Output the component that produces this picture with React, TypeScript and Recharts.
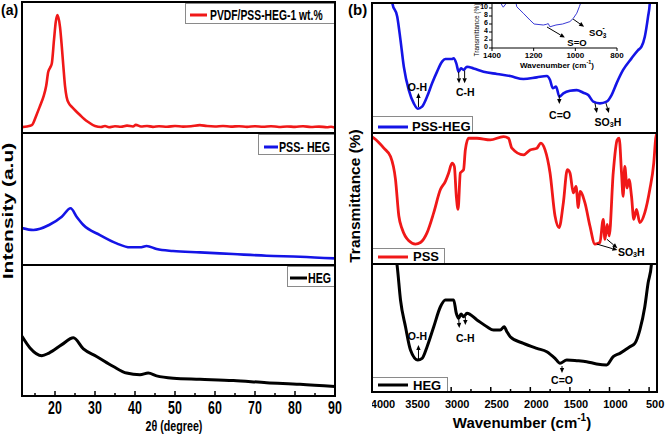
import React from "react";
import { LineChart, Line, XAxis, YAxis, ReferenceLine, ReferenceDot } from "recharts";

type Pt = [number, number];
type Note = { x: number; y: number; text: string; anchor?: "start" | "middle" };
type Arrow = { x1: number; y1: number; x2: number; y2: number };

const SANS = "'Liberation Sans', Arial, Helvetica, sans-serif";
const PAD = 12;

// (a) XRD: 2θ (degree) vs intensity (a.u., 0-100 within each strip)
const xrdPvdf: Pt[] = [
  [11.75, 4.5], [13, 5], [14.2, 6], [15.4, 14], [16.3, 21], [17.1, 27.5], [17.8, 36], [18.3, 46.5],
  [18.8, 50], [19.2, 53], [19.75, 71], [20.2, 85], [20.6, 90], [21.25, 81], [21.7, 66], [22.1, 50.5],
  [22.5, 36], [22.9, 27.5], [23.5, 22.5], [24.2, 20], [25.2, 16.8], [26.25, 13.7], [27.3, 10.7],
  [28.3, 8.4], [30, 5.3], [31.5, 4.6], [32.5, 5.3], [33.5, 4.4], [35, 5.2], [36.5, 4.8], [38, 5.6],
  [39.5, 5.0], [40.2, 6.2], [41.5, 5.0], [43, 5.4], [44.5, 4.7], [46, 5.2], [48, 4.8], [50, 5.3],
  [52, 4.9], [54, 5.2], [56.2, 6.0], [58, 5.3], [60, 5.0], [62, 5.4], [64, 4.9], [66, 5.2], [68, 4.7],
  [70, 5.1], [72, 4.8], [74, 5.2], [76, 4.6], [78, 5.0], [80, 4.7], [82, 5.1], [84, 4.6], [86, 4.9],
  [88, 4.4], [89, 4.8], [90, 4.0],
];
const xrdPssHeg: Pt[] = [
  [11.75, 28], [14.6, 26.5], [18.5, 30.3], [21.7, 36.6], [23.9, 43], [25.4, 36.6], [27.1, 30.3],
  [31.25, 22.7], [35.4, 16.4], [38.75, 13.4], [41.25, 13.4], [42.9, 14.4], [45.4, 12.1], [49.5, 10.6],
  [56.25, 9.6], [64.5, 8.3], [72.9, 7], [81.25, 6.3], [90, 5],
];
const xrdHeg: Pt[] = [
  [11.75, 45.6], [13.75, 36.7], [16.7, 30.8], [18.5, 32.8], [21.7, 39.2], [24.6, 44.4], [27.1, 35.9],
  [30.4, 30.2], [34.6, 22.5], [37.9, 17.5], [41.25, 16.2], [43.3, 17.5], [45.4, 15.4], [49.6, 13.6],
  [56.25, 12.8], [64.6, 11.8], [72.9, 10.2], [81.25, 9], [90, 7.2],
];
const thetaTicks = [15, 20, 25, 30, 35, 40, 45, 50, 55, 60, 65, 70, 75, 80, 85, 90];
const thetaLabels = [20, 30, 40, 50, 60, 70, 80, 90];

// (b) FTIR: wavenumber (cm-1) vs transmittance (a.u., 0-100 within each strip)
const ftirPssHeg: Pt[] = [
  [3770, 115], [3744, 100], [3681, 89.5], [3640, 71.5], [3598, 51], [3535, 33], [3472, 22.8],
  [3422, 18.7], [3367, 20.3], [3304, 28], [3241, 38.2], [3178, 47.2], [3115, 54.9], [3073, 56.9],
  [2989, 56.9], [2969, 57.4], [2935, 53.6], [2906, 47.2], [2875, 49.7], [2843, 48.5], [2800, 51],
  [2717, 49.7], [2591, 47.2], [2422, 45.4], [2254, 43.8], [2087, 41.5], [1918, 42.8], [1792, 43.8],
  [1751, 40.8], [1717, 34.4], [1675, 35.7], [1634, 28], [1583, 30.5], [1499, 32.5], [1414, 33],
  [1331, 31], [1268, 29.2], [1205, 24.1], [1121, 22.8], [1037, 24.1], [974, 29.2], [911, 38.2],
  [828, 48.5], [722, 57.4], [639, 63.8], [596, 66.4], [554, 74.1], [513, 89.5], [491, 99.8], [478, 115],
];
const ftirPss: Pt[] = [
  [4000, 97], [3976, 96], [3850, 88.4], [3766, 82], [3703, 64.4], [3661, 36.6], [3618, 26.5],
  [3535, 17.7], [3451, 15.2], [3388, 16.4], [3304, 24], [3220, 39.2], [3136, 56.8], [3073, 63.1],
  [3032, 69.5], [2989, 77], [2960, 74.5], [2935, 51.7], [2913, 41.7], [2884, 69.5], [2863, 70.7],
  [2843, 72], [2821, 87.1], [2780, 96], [2674, 96], [2506, 94.7], [2339, 97.2], [2276, 96],
  [2233, 88.4], [2087, 83.3], [2003, 87.1], [1918, 88.4], [1868, 92.2], [1814, 87.1], [1751, 69.5],
  [1688, 36.6], [1637, 27.8], [1583, 46.7], [1533, 72], [1499, 69.5], [1457, 54.3], [1423, 59.3],
  [1394, 43], [1373, 55.5], [1310, 46.7], [1247, 29], [1184, 15.2], [1121, 16.4], [1079, 34.1],
  [1058, 18.9], [1029, 30.3], [1004, 21.4], [953, 69.5], [903, 94.7], [878, 96], [848, 69.5],
  [828, 51.7], [807, 74.5], [778, 58], [753, 64.4], [722, 51.7], [693, 34.1], [659, 41.7],
  [617, 31.6], [554, 39.2], [491, 56.8], [441, 77], [416, 96], [400, 100],
];
const ftirHeg: Pt[] = [
  [3720, 115], [3681, 97.9], [3640, 71.9], [3577, 51], [3514, 32.8], [3422, 25], [3367, 26.3],
  [3304, 35.4], [3220, 51], [3136, 66.6], [3073, 71.9], [2969, 71.9], [2935, 61.5], [2906, 57.6],
  [2875, 60.9], [2843, 58.8], [2800, 61.5], [2674, 56.3], [2548, 51], [2465, 48.4], [2380, 48.4],
  [2330, 51], [2296, 47.1], [2254, 43.2], [2087, 38], [1918, 34.1], [1792, 31.5], [1688, 26.3],
  [1625, 22.4], [1540, 25], [1414, 24.5], [1289, 23.7], [1163, 21.9], [1037, 21.1], [953, 27.6],
  [869, 30.2], [743, 35.4], [680, 38], [617, 48.4], [554, 66.6], [513, 84.9], [470, 100], [455, 115],
];
const wnTicks = [4000, 3750, 3500, 3250, 3000, 2750, 2500, 2250, 2000, 1750, 1500, 1250, 1000, 750, 500];
const wnLabels = [4000, 3500, 3000, 2500, 2000, 1500, 1000, 500];

// inset: PSS-HEG, 1400-800 cm-1, transmittance (%)
const insetPssHeg: Pt[] = [
  [1365, 12.5], [1353, 10.75], [1346, 10.2], [1334, 11], [1325, 12.5], [1290, 12.5], [1281, 10.3],
  [1250, 8.7], [1218, 7], [1198, 6], [1154, 5.75], [1140, 5.9], [1130, 6.1], [1122, 5.3], [1093, 5.75],
  [1061, 6], [1026, 6.6], [1010, 7.4], [993, 8.7], [981, 10.3], [974, 11.3], [965, 12.5],
];
const insetXTicks = [1400, 1200, 1000, 800];
const insetYTicks = [0, 2, 4, 6, 8, 10];

// band assignments
const pssHegNotes: Note[] = [
  { x: 3426, y: 35.4, text: "O-H" },
  { x: 2821, y: 31.5, text: "C-H" },
  { x: 1625, y: 13.8, text: "C=O" },
  { x: 1020, y: 8.5, text: "SO3H" },
];
const pssHegArrows: Arrow[] = [
  { x1: 3413, y1: 20, x2: 3413, y2: 30.8 },
  { x1: 2906, y1: 47, x2: 2900, y2: 38.2 },
  { x1: 2830, y1: 48, x2: 2830, y2: 38.2 },
  { x1: 1634, y1: 29.2, x2: 1634, y2: 22.3 },
  { x1: 1184, y1: 23, x2: 1159, y2: 15.4 },
  { x1: 1045, y1: 23, x2: 1008, y2: 15.4 },
];
const pssNotes: Note[] = [{ x: 894, y: 9.1, text: "SO3H", anchor: "start" }];
const pssArrows: Arrow[] = [
  { x1: 1159, y1: 15.2, x2: 900, y2: 10.6 },
  { x1: 1033, y1: 18.9, x2: 900, y2: 12.1 },
];
const hegNotes: Note[] = [
  { x: 3426, y: 43.75, text: "O-H" },
  { x: 2821, y: 42.2, text: "C-H" },
  { x: 1600, y: 9.4, text: "C=O" },
];
const hegArrows: Arrow[] = [
  { x1: 3413, y1: 25, x2: 3413, y2: 36.7 },
  { x1: 2906, y1: 58.6, x2: 2897, y2: 50 },
  { x1: 2821, y1: 58.6, x2: 2821, y2: 52.3 },
  { x1: 1600, y1: 20.3, x2: 1600, y2: 14.8 },
];
const insetNotes: Note[] = [
  { x: 992, y: 1.5, text: "S=O" },
  { x: 934, y: 3.9, text: "SO3-", anchor: "start" },
];
const insetArrows: Arrow[] = [
  { x1: 1136, y1: 5.25, x2: 1050, y2: 2.6 },
  { x1: 1011, y1: 7.25, x2: 958, y2: 5.3 },
];

const rows = (pts: Pt[]) => pts.map(([x, y]) => ({ x, y }));

function labelSpans(text: string, size: number) {
  const s = size * 0.68;
  if (text === "SO3H")
    return [<tspan key="a">SO</tspan>, <tspan key="b" fontSize={s} dy={3}>3</tspan>, <tspan key="c" dy={-3}>H</tspan>];
  if (text === "SO3-")
    return [<tspan key="a">SO</tspan>, <tspan key="b" fontSize={s} dy={3}>3</tspan>, <tspan key="c" fontSize={s} dx={-4} dy={-8}>-</tspan>];
  return text;
}

const noteShape = (n: Note, size: number) => (p: any) => (
  <text x={p.cx} y={p.cy} textAnchor={n.anchor ?? "middle"} dominantBaseline="central"
    fontSize={size} fontWeight="bold" fill="#000" fontFamily={SANS}>
    {labelSpans(n.text, size)}
  </text>
);

const arrowShape = (p: any) => {
  const { x1, y1, x2, y2 } = p;
  const a = Math.atan2(y2 - y1, x2 - x1);
  const bx = x2 - 5 * Math.cos(a), by = y2 - 5 * Math.sin(a);
  const px = -Math.sin(a) * 2.2, py = Math.cos(a) * 2.2;
  return (
    <g>
      <line x1={x1} y1={y1} x2={bx} y2={by} stroke="#000" strokeWidth={1} />
      <polygon points={`${x2},${y2} ${bx + px},${by + py} ${bx - px},${by - py}`} fill="#000" />
    </g>
  );
};

function annotations(notes: Note[], arrows: Arrow[], size: number) {
  return [
    ...arrows.map((a, i) => (
      <ReferenceLine key={"a" + i} segment={[{ x: a.x1, y: a.y1 }, { x: a.x2, y: a.y2 }]} shape={arrowShape} />
    )),
    ...notes.map((n, i) => (
      <ReferenceDot key={"n" + i} x={n.x} y={n.y} r={0} shape={noteShape(n, size)} />
    )),
  ];
}

const thetaTick = (p: any) => {
  const v = p.payload.value;
  const major = thetaLabels.includes(v);
  return (
    <g>
      <line x1={p.x} y1={p.y} x2={p.x} y2={p.y - (major ? 5 : 3)} stroke="#000" strokeWidth={1.5} />
      {major && (
        <text transform={`translate(${p.x},${p.y + 18}) scale(0.69,1)`} textAnchor="middle"
          fontSize={18} fontWeight="bold" fill="#000" fontFamily={SANS}>{v}</text>
      )}
    </g>
  );
};

const wnTick = (labels: boolean) => (p: any) => {
  const v = p.payload.value;
  const major = wnLabels.includes(v);
  return (
    <g>
      <line x1={p.x} y1={p.y} x2={p.x} y2={p.y - (major ? 5 : 3)} stroke="#000" strokeWidth={1.5} />
      {labels && major && (
        <text x={p.x + (v === 4000 ? 11 : 6)} y={p.y + 15.5} textAnchor="middle"
          fontSize={11} fontWeight="bold" fill="#000" fontFamily={SANS}>{v}</text>
      )}
    </g>
  );
};

function Strip(props: {
  left: number; top: number; w: number; h: number; axisH?: number;
  data: Pt[]; color: string; sw: number; domain: [number, number]; reversed?: boolean;
  ticks?: number[]; tick?: any; children?: React.ReactNode;
}) {
  const { left, top, w, h, axisH = 0, data, color, sw, domain, reversed, ticks, tick, children } = props;
  return (
    <div style={{ position: "absolute", left, top }}>
      <LineChart width={w + PAD} height={h + axisH} data={rows(data)}
        margin={{ top: 0, right: PAD, bottom: 0, left: 0 }}>
        <XAxis dataKey="x" type="number" domain={domain} reversed={reversed} allowDataOverflow
          hide={!ticks} ticks={ticks} interval={0} height={axisH} tickSize={0} tickMargin={0}
          axisLine={false} tickLine={false} tick={tick} />
        <YAxis hide type="number" domain={[0, 100]} allowDataOverflow />
        <Line type="monotone" dataKey="y" stroke={color} strokeWidth={sw} dot={false}
          strokeLinejoin="round" isAnimationActive={false} />
        {children}
      </LineChart>
    </div>
  );
}

function Frame({ x, y, w, h }: { x: number; y: number; w: number; h: number }) {
  return (
    <div style={{
      position: "absolute", left: x - 1, top: y - 1, width: w + 2, height: h + 2,
      border: "2px solid #000", boxSizing: "border-box", pointerEvents: "none",
    }} />
  );
}

function LegendBox(p: {
  x: number; y: number; w: number; h: number; color: string; label: string;
  l1: number; l2: number; ly: number; tx: number; ty: number; size: number; squeeze?: number;
}) {
  const sq = p.squeeze ?? 1;
  return (
    <svg width={p.w} height={p.h} style={{ position: "absolute", left: p.x, top: p.y }}>
      <rect x={0.5} y={0.5} width={p.w - 1} height={p.h - 1} fill="#fff" stroke="#8a8a8a" />
      <line x1={p.l1} y1={p.ly} x2={p.l2} y2={p.ly} stroke={p.color} strokeWidth={3} />
      <text transform={`translate(${p.tx},${p.ty}) scale(${sq},1)`} fontSize={p.size}
        fontWeight="bold" fill="#000" fontFamily={SANS}>{p.label}</text>
    </svg>
  );
}

export default function App() {
  const LX = 22, LW = 313, RX = 372, RW = 285;
  const thetaDom: [number, number] = [11.75, 90];
  const wnDom: [number, number] = [400, 4000];
  return (
    <div style={{ position: "absolute", left: 0, top: 0, width: 666, height: 436, background: "#fff",
      overflow: "hidden", fontFamily: SANS }}>
      {/* (a) XRD */}
      <Strip left={LX} top={2} w={LW} h={131} data={xrdPvdf} color="#f01818" sw={2.6} domain={thetaDom} />
      <Strip left={LX} top={133} w={LW} h={132} data={xrdPssHeg} color="#1414e6" sw={2.6} domain={thetaDom} />
      <Strip left={LX} top={265} w={LW} h={131} axisH={24} data={xrdHeg} color="#000" sw={3}
        domain={thetaDom} ticks={thetaTicks} tick={thetaTick} />

      {/* (b) FTIR */}
      <Strip left={RX} top={3} w={RW} h={130} data={ftirPssHeg} color="#1414e6" sw={2.6} domain={wnDom}
        reversed ticks={wnTicks} tick={wnTick(false)}>
        {annotations(pssHegNotes, pssHegArrows, 10.5)}
      </Strip>
      <Strip left={RX} top={133} w={RW} h={131} data={ftirPss} color="#f01818" sw={2.8} domain={wnDom}
        reversed ticks={wnTicks} tick={wnTick(false)}>
        {annotations(pssNotes, pssArrows, 10.5)}
      </Strip>
      <Strip left={RX} top={264} w={RW} h={128} axisH={22} data={ftirHeg} color="#000" sw={3} domain={wnDom}
        reversed ticks={wnTicks} tick={wnTick(true)}>
        {annotations(hegNotes, hegArrows, 10.5)}
      </Strip>

      {/* inset */}
      <div style={{ position: "absolute", left: 462, top: 3 }}>
        <LineChart width={165} height={69} data={rows(insetPssHeg)} margin={{ top: 0, right: 10, bottom: 0, left: 0 }}>
          <XAxis dataKey="x" type="number" domain={[800, 1400]} reversed allowDataOverflow ticks={insetXTicks}
            interval={0} height={24} tickSize={3} tickMargin={0} stroke="#000"
            tick={{ fontSize: 8, fontWeight: "bold", fill: "#000", dy: 1 }} />
          <YAxis type="number" domain={[0, 11.25]} allowDataOverflow ticks={insetYTicks} interval={0}
            width={30} tickSize={3} tickMargin={1} stroke="#000"
            tick={{ fontSize: 7, fontWeight: "bold", fill: "#000", dy: -1 }} />
          <Line type="linear" dataKey="y" stroke="#3a3ad6" strokeWidth={1} dot={false} isAnimationActive={false} />
          {annotations(insetNotes, insetArrows, 9.5)}
        </LineChart>
      </div>
      <svg width={16} height={60} style={{ position: "absolute", left: 469, top: 3 }}>
        <text transform="translate(10,27) rotate(-90)" textAnchor="middle" fontSize={6.5} fill="#000">
          Transmittance (%)
        </text>
      </svg>

      {/* legends */}
      <LegendBox x={185} y={3} w={150} h={21} color="#f01818" label="PVDF/PSS-HEG-1 wt.%"
        l1={5} l2={22} ly={12} tx={25} ty={17} size={15} squeeze={0.69} />
      <LegendBox x={258} y={134} w={77} h={21} color="#1414e6" label="PSS- HEG"
        l1={6} l2={20} ly={13} tx={21} ty={18} size={15.5} squeeze={0.69} />
      <LegendBox x={287} y={266} w={48} h={21} color="#000" label="HEG"
        l1={3} l2={20} ly={12} tx={21} ty={17} size={15.5} squeeze={0.69} />
      <LegendBox x={372} y={116} w={101} h={17} color="#1414e6" label="PSS-HEG"
        l1={6} l2={36} ly={11} tx={40} ty={15} size={13} />
      <LegendBox x={372} y={248} w={73} h={16} color="#f01818" label="PSS"
        l1={6} l2={36} ly={9} tx={41} ty={13} size={13} />
      <LegendBox x={372} y={377} w={76} h={15} color="#000" label="HEG"
        l1={6} l2={36} ly={8} tx={41} ty={13} size={13} />

      {/* frames */}
      <Frame x={LX} y={2} w={LW} h={131} />
      <Frame x={LX} y={133} w={LW} h={132} />
      <Frame x={LX} y={265} w={LW} h={131} />
      <Frame x={RX} y={3} w={RW} h={130} />
      <Frame x={RX} y={133} w={RW} h={131} />
      <Frame x={RX} y={264} w={RW} h={128} />

      {/* titles */}
      <svg width={666} height={436} style={{ position: "absolute", left: 0, top: 0, pointerEvents: "none" }}>
        <text x={1} y={15} fontSize={14} fontWeight="bold" fill="#000">(a)</text>
        <text x={348} y={15} fontSize={15} fontWeight="bold" fill="#000">(b)</text>
        <text transform="translate(13,211) scale(0.69,1) rotate(-90)" textAnchor="middle" fontSize={21}
          fontWeight="bold" fill="#000">Intensity (a.u)</text>
        <text transform="translate(360,196) rotate(-90)" textAnchor="middle" fontSize={15.5}
          fontWeight="bold" fill="#000">Transmittance (%)</text>
        <text transform="translate(174,431) scale(0.69,1)" textAnchor="middle" fontSize={15.5}
          fontWeight="bold" fill="#000">2θ (degree)</text>
        <text x={522} y={428} textAnchor="middle" fontSize={15} fontWeight="bold" fill="#000">
          Wavenumber (cm<tspan fontSize={10} dy={-7}>-1</tspan><tspan dy={7}>)</tspan>
        </text>
        <text x={557} y={68} textAnchor="middle" fontSize={8} fontWeight="bold" fill="#000">
          Wavenumber (cm<tspan fontSize={5.5} dy={-4}>-1</tspan><tspan dy={4}>)</tspan>
        </text>
      </svg>
    </div>
  );
}
